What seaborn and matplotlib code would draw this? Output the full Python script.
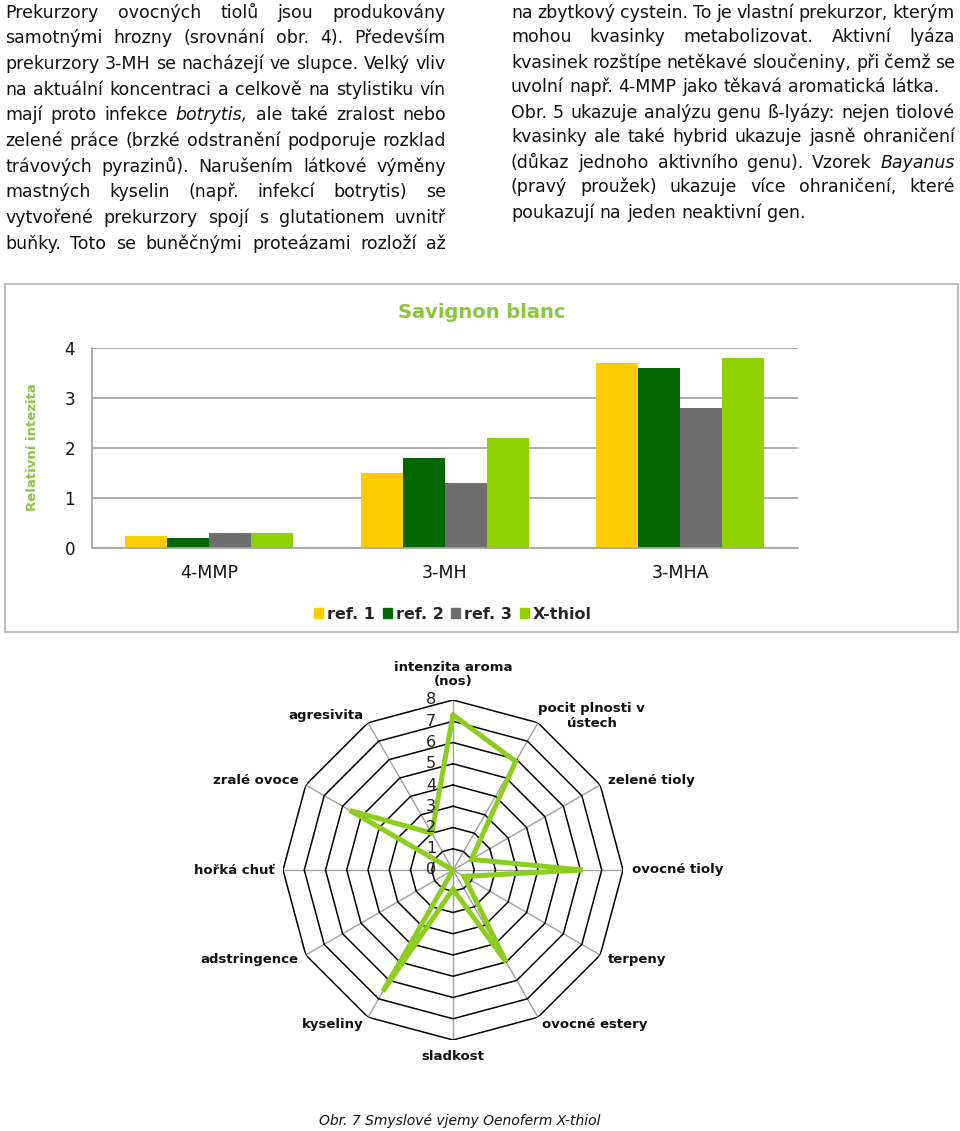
import numpy as np
import pandas as pd
import matplotlib
matplotlib.use("Agg")
import matplotlib.pyplot as plt
import matplotlib.patches as mpatches
from matplotlib.transforms import offset_copy
import seaborn as sns

# ---------------- data ----------------
categories = ["4-MMP", "3-MH", "3-MHA"]
series = ["ref. 1", "ref. 2", "ref. 3", "X-thiol"]
ref1 = [0.25, 1.5, 3.7]
ref2 = [0.2, 1.8, 3.6]
ref3 = [0.3, 1.3, 2.8]
xthiol = [0.3, 2.2, 3.8]
bar_colors = ["#FFCC00", "#006600", "#6E6E6E", "#8FD100"]
y_ticks = [0, 1, 2, 3, 4]

radar_labels = ["intenzita aroma\n(nos)", "pocit plnosti v\nústech", "zelené tioly",
                "ovocné tioly", "terpeny", "ovocné estery", "sladkost", "kyseliny",
                "adstringence", "hořká chuť", "zralé ovoce", "agresivita"]
radar_values = [7.3, 5.9, 1.0, 6.1, 0.6, 5.0, 0.9, 6.6, 0.0, 0.0, 5.6, 2.0]
radar_rings = [1, 2, 3, 4, 5, 6, 7, 8]
radar_ticklabels = ["0", "1", "2", "3", "4", "5", "6", "7", "8"]

left_lines = [
    ("Prekurzory ovocných tiolů jsou produkovány", True),
    ("samotnými hrozny (srovnání obr. 4). Především", True),
    ("prekurzory 3-MH se nacházejí ve slupce. Velký vliv", True),
    ("na aktuální koncentraci a celkově na stylistiku vín", True),
    ("mají proto infekce ~botrytis, ale také zralost nebo", True),
    ("zelené práce (brzké odstranění podporuje rozklad", True),
    ("trávových pyrazinů). Narušením látkové výměny", True),
    ("mastných kyselin (např. infekcí botrytis) se", True),
    ("vytvořené prekurzory spojí s glutationem uvnitř", True),
    ("buňky. Toto se buněčnými proteázami rozloží až", True),
]
right_lines = [
    ("na zbytkový cystein. To je vlastní prekurzor, kterým", True),
    ("mohou kvasinky metabolizovat. Aktivní lyáza", True),
    ("kvasinek rozštípe netěkavé sloučeniny, při čemž se", True),
    ("uvolní např. 4-MMP jako těkavá aromatická látka.", False),
    ("Obr. 5 ukazuje analýzu genu ß-lyázy: nejen tiolové", True),
    ("kvasinky ale také hybrid ukazuje jasně ohraničení", True),
    ("(důkaz jednoho aktivního genu). Vzorek ~Bayanus", True),
    ("(pravý proužek) ukazuje více ohraničení, které", True),
    ("poukazují na jeden neaktivní gen.", False),
]

W, H = 960, 1131
sns.set_style("white")
plt.rcParams["font.family"] = ["DejaVu Sans"]

fig = plt.figure(figsize=(W / 100, H / 100), dpi=100)
fig.patch.set_facecolor("white")


def fx(px):
    return px / W


def fy(py):
    return 1 - py / H


# ---------------- justified text ----------------
renderer = fig.canvas.get_renderer()
TEXT_FS = 12.5


def text_width(s, **kw):
    t = fig.text(0, 0, s, fontsize=TEXT_FS, **kw)
    w = t.get_window_extent(renderer).width
    t.remove()
    return w


SPACE_W = text_width("a a") - 2 * text_width("a")


def draw_column(lines, x0, x1, base0, step):
    for i, (line, justify) in enumerate(lines):
        words = line.split(" ")
        objs = []
        for w in words:
            italic = w.startswith("~")
            t = fig.text(0, 0, w.lstrip("~"), fontsize=TEXT_FS,
                         style="italic" if italic else "normal",
                         color="#111111", ha="left", va="baseline")
            objs.append(t)
        widths = [o.get_window_extent(renderer).width for o in objs]
        total = sum(widths)
        if justify and len(words) > 1:
            gap = (x1 - x0 - total) / (len(words) - 1)
        else:
            gap = SPACE_W
        x = x0
        y = base0 + step * i
        for o, w in zip(objs, widths):
            o.set_position((fx(x), fy(y)))
            x += w + gap


draw_column(left_lines, 5, 446, 17.5, 25.7)
draw_column(right_lines, 511, 955, 17.5, 25.0)

# ---------------- bar chart ----------------
fig.add_artist(mpatches.Rectangle((fx(5), fy(632)), fx(953), (632 - 284) / H,
                                  transform=fig.transFigure, fill=False,
                                  edgecolor="#BFBFBF", lw=1.5))

df = pd.DataFrame({
    "compound": categories * 4,
    "series": np.repeat(series, len(categories)),
    "value": ref1 + ref2 + ref3 + xthiol,
})

ax = fig.add_axes([fx(91.7), fy(548.3), (797.7 - 91.7) / W, (548.3 - 347.7) / H])
sns.barplot(data=df, x="compound", y="value", hue="series", palette=bar_colors,
            width=0.715, saturation=1, errorbar=None, legend=False, ax=ax,
            linewidth=0)
ax.set_ylim(0, 4)
ax.set_xlim(-0.5, 2.5)
ax.set_yticks(y_ticks)
ax.yaxis.grid(True, color="#A6A6A6", lw=1.3)
ax.set_axisbelow(True)
for s in ["top", "right"]:
    ax.spines[s].set_visible(False)
for s in ["left", "bottom"]:
    ax.spines[s].set_color("#A6A6A6")
    ax.spines[s].set_linewidth(1.3)
ax.set_xlabel("")
ax.set_ylabel("")
ax.tick_params(axis="y", length=4, color="#A6A6A6", labelsize=12, pad=8,
               labelcolor="#111111")
ax.tick_params(axis="x", which="major", length=0, labelsize=12.5, pad=11,
               labelcolor="#111111")
ax.set_xticks([-0.5, 0.5, 1.5, 2.5], minor=True)
ax.tick_params(axis="x", which="minor", length=4, color="#A6A6A6", width=1.3)

fig.text(fx(482), fy(312), "Savignon blanc", color="#8CC63F", fontsize=14,
         fontweight="bold", ha="center", va="center")
fig.text(fx(33), fy(447), "Relativní intezita", color="#8CC63F", fontsize=9.5,
         fontweight="bold", rotation=90, ha="center", va="center")

handles = [mpatches.Patch(color=c, label=s) for c, s in zip(bar_colors, series)]
fig.legend(handles=handles, loc="center", bbox_to_anchor=(fx(453), fy(614)),
           ncol=4, frameon=False, prop={"weight": "bold", "size": 11.5},
           handlelength=0.55, handleheight=0.6, handletextpad=0.25,
           columnspacing=0.5, borderaxespad=0)

# ---------------- radar chart ----------------
rax = fig.add_axes([fx(283), fy(1040), 340 / W, 340 / H], projection="polar")
rax.set_theta_zero_location("N")
rax.set_theta_direction(-1)
rax.set_ylim(0, 8)
rax.grid(False)
rax.spines["polar"].set_visible(False)
rax.set_xticks([])
rax.set_yticks([])
rax.patch.set_alpha(0)

n = len(radar_labels)
theta = np.deg2rad(np.arange(n) * 360 / n)
theta_c = np.append(theta, theta[0])
for t in theta:
    rax.plot([t, t], [0, 8], color="#A0A0A0", lw=1.0, zorder=1)
for k in radar_rings:
    rax.plot(theta_c, [k] * (n + 1), color="black", lw=1.1, zorder=2)
vals_c = np.append(radar_values, radar_values[0])
rax.plot(theta_c, vals_c, color="#8CCD1E", lw=3.6, zorder=3,
         solid_joinstyle="miter")

off = offset_copy(rax.transData, fig=fig, x=-22, y=0, units="dots")
for k, lab in enumerate(radar_ticklabels):
    rax.text(0, k, lab, transform=off, ha="center", va="center", fontsize=11.5,
             color="#222222", zorder=4)

for i, (t, lab) in enumerate(zip(theta, radar_labels)):
    deg = np.rad2deg(t)
    s = np.sin(t)
    r = 8.4
    ha = "left" if s > 0.1 else ("right" if s < -0.1 else "center")
    if i == 0:
        r = 9.2
    elif i == 1:
        t = np.deg2rad(42)
        r = 9.76
        ha = "center"
    elif abs(deg - 180) < 1:
        r = 8.8
    rax.text(t, r, lab, ha=ha, va="center", fontsize=9.5, fontweight="bold",
             color="#111111", linespacing=1.15)

fig.text(fx(460), fy(1121), "Obr. 7 Smyslové vjemy Oenoferm X-thiol",
         style="italic", ha="center", va="center", fontsize=10, color="#111111")

fig.savefig("out.png", dpi=100, facecolor="white")
